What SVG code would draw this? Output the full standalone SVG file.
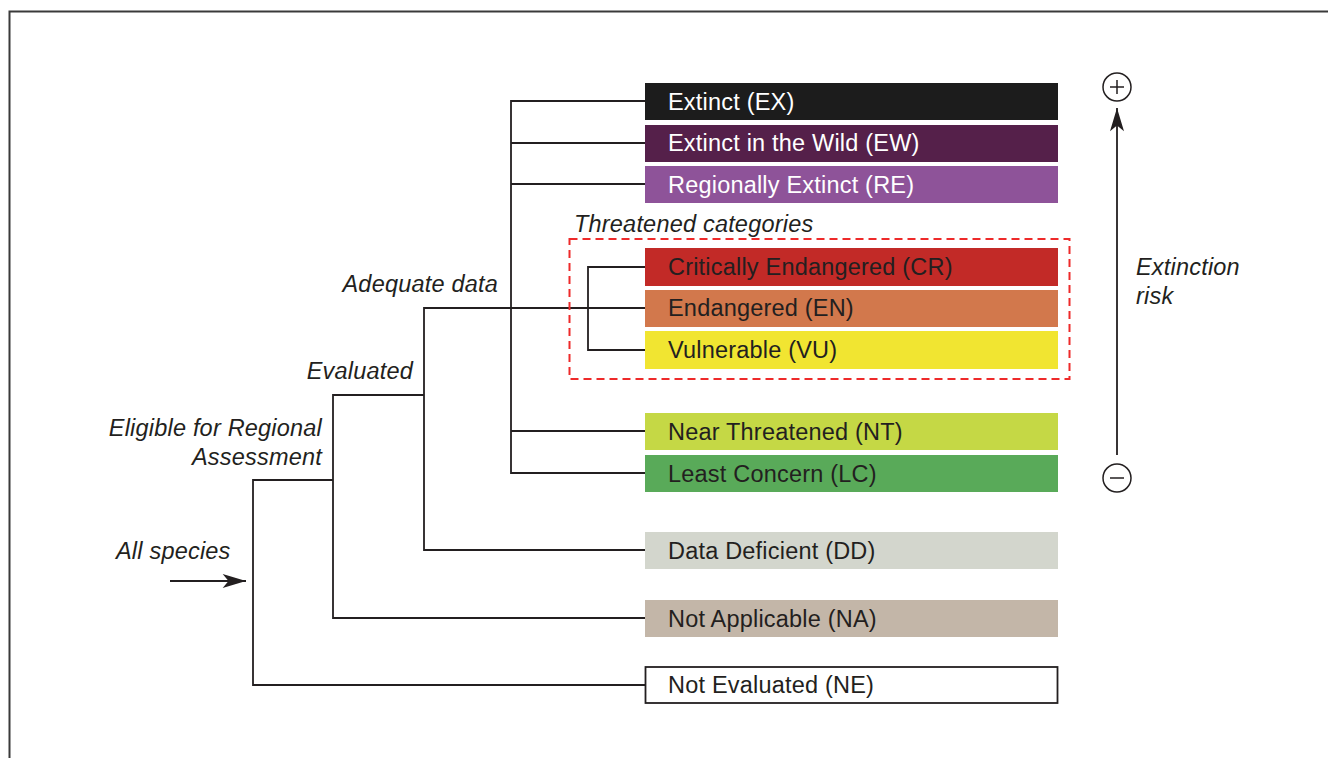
<svg xmlns="http://www.w3.org/2000/svg" width="1328" height="758" viewBox="0 0 1328 758">
<defs>
<style>
.box text{font-family:"Liberation Sans",Arial,sans-serif;font-size:23.5px;letter-spacing:0.2px;fill:#231f20}
.box text.w{fill:#ffffff}
.lbl{font-family:"Liberation Sans",Arial,sans-serif;font-size:23.5px;letter-spacing:0.2px;font-style:italic;fill:#231f20}
.ln{stroke:#231f20;stroke-width:1.8;fill:none}
</style>
<marker id="ah2" viewBox="0 0 20 12" refX="20" refY="6" markerWidth="26" markerHeight="14" markerUnits="userSpaceOnUse" orient="auto">
<path d="M0,0 L20,6 L0,12 L5,6 Z" fill="#231f20"/>
</marker>
</defs>
<rect width="1328" height="758" fill="#ffffff"/>
<path d="M9.5,758 V11.5 H1328" stroke="#3a3a3a" stroke-width="2" fill="none"/>

<g id="connectors">
<path class="ln" d="M645,685 H253 V480 H333"/>
<path class="ln" d="M645,618 H333 V395 H424"/>
<path class="ln" d="M645,550 H424 V308 H645"/>
<path class="ln" d="M645,101 H511 V473 H645"/>
<path class="ln" d="M511,143 H645 M511,184 H645 M511,431 H645"/>
<path class="ln" d="M645,267 H588 V350 H645"/>
<line class="ln" x1="170" y1="581" x2="246" y2="581" marker-end="url(#ah2)"/>
<line class="ln" x1="1117" y1="455" x2="1117" y2="108" marker-end="url(#ah2)"/>
</g>

<g id="threatened-group">
<rect x="569.5" y="239" width="500" height="140" fill="none" stroke="#ee2a2a" stroke-width="2" stroke-dasharray="8,5"/>
<text class="lbl" x="574" y="232">Threatened categories</text>
</g>

<g id="EX" class="box"><rect x="645" y="83" width="413" height="37" fill="#1c1c1c"/><text class="w" x="668" y="109.5">Extinct (EX)</text></g>
<g id="EW" class="box"><rect x="645" y="125" width="413" height="37" fill="#55204a"/><text class="w" x="668" y="151">Extinct in the Wild (EW)</text></g>
<g id="RE" class="box"><rect x="645" y="166" width="413" height="37" fill="#8e5399"/><text class="w" x="668" y="192.5">Regionally Extinct (RE)</text></g>
<g id="CR" class="box"><rect x="645" y="248" width="413" height="38" fill="#c22a27"/><text x="668" y="275">Critically Endangered (CR)</text></g>
<g id="EN" class="box"><rect x="645" y="290" width="413" height="37" fill="#d2784c"/><text x="668" y="316">Endangered (EN)</text></g>
<g id="VU" class="box"><rect x="645" y="331" width="413" height="38" fill="#f1e531"/><text x="668" y="358">Vulnerable (VU)</text></g>
<g id="NT" class="box"><rect x="645" y="413" width="413" height="37" fill="#c5d845"/><text x="668" y="440">Near Threatened (NT)</text></g>
<g id="LC" class="box"><rect x="645" y="455" width="413" height="37" fill="#59aa59"/><text x="668" y="482">Least Concern (LC)</text></g>
<g id="DD" class="box"><rect x="645" y="532" width="413" height="37" fill="#d3d6cd"/><text x="668" y="559">Data Deficient (DD)</text></g>
<g id="NA" class="box"><rect x="645" y="600" width="413" height="37" fill="#c3b6a8"/><text x="668" y="627">Not Applicable (NA)</text></g>
<g id="NE" class="box"><rect x="645.5" y="667" width="412" height="36" fill="#ffffff" stroke="#231f20" stroke-width="1.8"/><text x="668" y="693">Not Evaluated (NE)</text></g>

<g id="labels">
<text class="lbl" x="498" y="292" text-anchor="end">Adequate data</text>
<text class="lbl" x="413" y="379" text-anchor="end">Evaluated</text>
<text class="lbl" x="322" y="436" text-anchor="end">Eligible for Regional</text>
<text class="lbl" x="322" y="465" text-anchor="end">Assessment</text>
<text class="lbl" x="116" y="559">All species</text>
</g>

<g id="risk-axis">
<circle cx="1117" cy="87" r="14" fill="none" stroke="#231f20" stroke-width="1.5"/>
<path d="M1110,87 H1124 M1117,80 V94" stroke="#231f20" stroke-width="1.5"/>
<circle cx="1117" cy="478" r="14" fill="none" stroke="#231f20" stroke-width="1.5"/>
<path d="M1110,478 H1124" stroke="#231f20" stroke-width="1.5"/>
<text class="lbl" x="1136" y="275">Extinction</text>
<text class="lbl" x="1136" y="304">risk</text>
</g>
</svg>
